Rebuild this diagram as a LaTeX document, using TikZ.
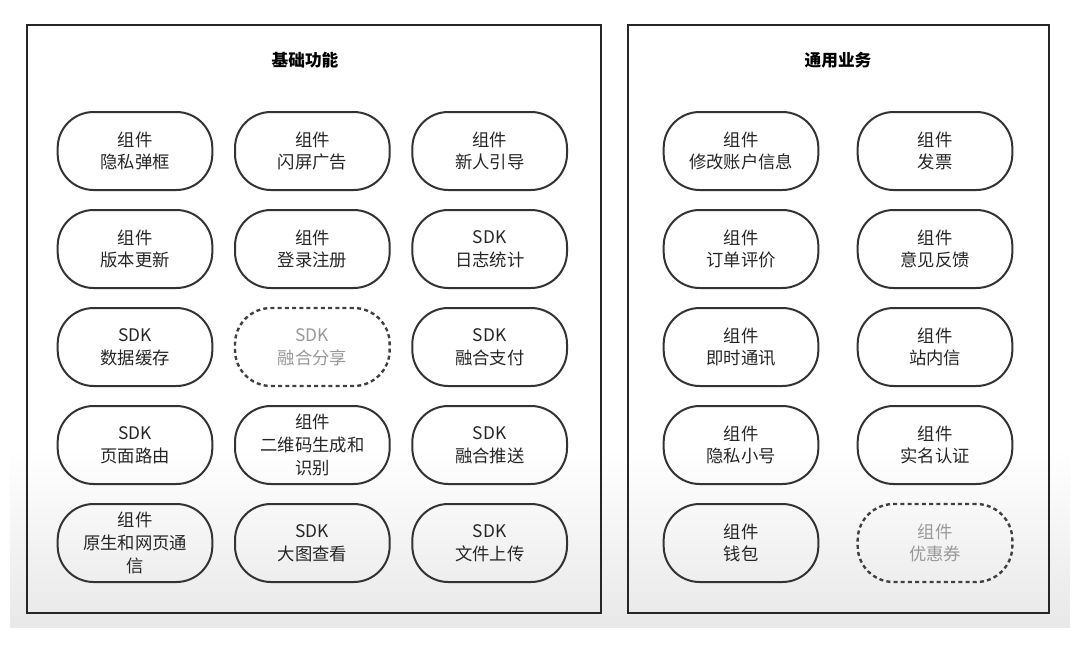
\documentclass[tikz,border=0pt]{standalone}
\usepackage{fontspec}
\setmainfont{Noto Sans CJK SC}
\usetikzlibrary{positioning}
\tikzset{
    comp/.style = {draw=black!80, line width=1.5pt, rectangle, rounded corners=27pt,
        minimum height=58.5pt, minimum width=116pt, align=center,
        font=\fontsize{13}{17}\selectfont, text=black!85},
    plan/.style = {comp, dash pattern=on 3pt off 2.4pt, draw=black!75, line width=1.8pt, text=black!40},
    panel/.style = {draw=black!85, line width=1.5pt},
    title/.style = {font=\bfseries\fontsize{12.5}{15}\selectfont}
}
\begin{document}
\begin{tikzpicture}[x=0.75pt, y=-0.75pt, node distance=73.5pt]
    \useasboundingbox (0,0) rectangle (1080,646);
    \fill [white] (10,0) rectangle (1070,450);
    \shade [top color=white, bottom color=black!9] (10,450) rectangle (1070,627);
    \draw [panel] (27,25) rectangle (601,613);
    \draw [panel] (628,25) rectangle (1049,613);
    \node [title] (t1) at (305,60) {基础功能};
    \node [title] (t2) at (838,60) {通用业务};
    % left panel
    \node [comp] (a1) at (135,151) {组件\\隐私弹框};
    \node [comp, right=15.5pt of a1] (b1) {组件\\闪屏广告};
    \node [comp, right=15.5pt of b1] (c1) {组件\\新人引导};
    \node [comp, below of=a1] (a2) {组件\\版本更新};
    \node [comp, below of=b1] (b2) {组件\\登录注册};
    \node [comp, below of=c1] (c2) {SDK\\日志统计};
    \node [comp, below of=a2] (a3) {SDK\\数据缓存};
    \node [plan, below of=b2] (b3) {SDK\\融合分享};
    \node [comp, below of=c2] (c3) {SDK\\融合支付};
    \node [comp, below of=a3] (a4) {SDK\\页面路由};
    \node [comp, below of=b3] (b4) {组件\\二维码生成和\\识别};
    \node [comp, below of=c3] (c4) {SDK\\融合推送};
    \node [comp, below of=a4] (a5) {组件\\原生和网页通\\信};
    \node [comp, below of=b4] (b5) {SDK\\大图查看};
    \node [comp, below of=c4] (c5) {SDK\\文件上传};
    % right panel
    \node [comp] (d1) at (741,151) {组件\\修改账户信息};
    \node [comp, right=28pt of d1] (e1) {组件\\发票};
    \node [comp, below of=d1] (d2) {组件\\订单评价};
    \node [comp, below of=e1] (e2) {组件\\意见反馈};
    \node [comp, below of=d2] (d3) {组件\\即时通讯};
    \node [comp, below of=e2] (e3) {组件\\站内信};
    \node [comp, below of=d3] (d4) {组件\\隐私小号};
    \node [comp, below of=e3] (e4) {组件\\实名认证};
    \node [comp, below of=d4] (d5) {组件\\钱包};
    \node [plan, below of=e4] (e5) {组件\\优惠券};
\end{tikzpicture}
\end{document}
